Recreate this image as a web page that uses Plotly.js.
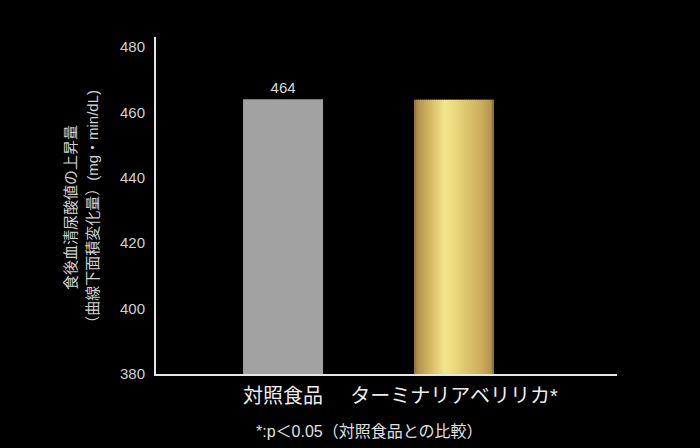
<!DOCTYPE html>
<html>
<head>
<meta charset="utf-8">
<script src="https://cdn.plot.ly/plotly-3.0.1.min.js"></script>
<style>html,body{margin:0;padding:0;background:#000;}#chart{width:700px;height:448px;}</style>
</head>
<body>
<div id="chart"></div>
<script>
// ---- data ----
const categories = ['対照食品', 'ターミナリアベリリカ*'];
const values = [464, 463.8];
const valueLabels = ['464', ''];
const yTickVals = [380, 400, 420, 440, 460, 480];
const yTitleLines = ['食後血清尿酸値の上昇量', '（曲線下面積変化量）(mg・min/dL)'];
const footnote = '*:p＜0.05（対照食品との比較）';

// ---- styling ----
const FONT = "'Liberation Sans', Arial, 'Noto Sans CJK JP', sans-serif";
const barW = 0.468;
const goldStops = [
  [0.00, [140, 114, 58]],
  [0.05, [178, 148, 78]],
  [0.20, [212, 184, 98]],
  [0.38, [242, 229, 140]],
  [0.50, [236, 218, 125]],
  [0.66, [220, 196, 108]],
  [0.85, [203, 173, 92]],
  [0.96, [180, 150, 80]],
  [1.00, [120, 98, 50]]
];
function goldAt(t) {
  for (let i = 1; i < goldStops.length; i++) {
    if (t <= goldStops[i][0]) {
      const a = goldStops[i - 1], b = goldStops[i];
      const f = (t - a[0]) / (b[0] - a[0]);
      const c = a[1].map((v, k) => Math.round(v + (b[1][k] - v) * f));
      return 'rgb(' + c.join(',') + ')';
    }
  }
  return 'rgb(' + goldStops[goldStops.length - 1][1].join(',') + ')';
}

const traces = [];
// gray control bar
traces.push({
  type: 'bar', x: [categories[0]], y: [values[0]],
  width: [barW],
  marker: { color: '#a2a2a2', line: { width: 0 } },
  text: [valueLabels[0]], textposition: 'outside', cliponaxis: false,
  textfont: { color: '#d8d8d8', size: 15, family: FONT },
  hoverinfo: 'skip', showlegend: false
});
// gold bar drawn as thin vertical stripes to imitate the metallic gradient
const N = 40;
const step = barW / N;
for (let i = 0; i < N; i++) {
  const w = (i === N - 1) ? step : step * 1.6;
  traces.push({
    type: 'bar', x: [categories[1]], y: [values[1]],
    width: [w], offset: [-barW / 2 + i * step],
    marker: { color: goldAt((i + 0.5) / N), line: { width: 0 } },
    hoverinfo: 'skip', showlegend: false
  });
}

const titleFont = { size: 15, color: '#d0d0d0', family: FONT };
const layout = {
  width: 700, height: 448,
  paper_bgcolor: '#000', plot_bgcolor: '#000',
  margin: { l: 156, r: 83, t: 37, b: 74 },
  barmode: 'overlay',
  font: { family: FONT, color: '#d0d0d0' },
  xaxis: {
    type: 'category', categoryorder: 'array', categoryarray: categories,
    range: [-0.743, 1.953],
    showline: true, linecolor: '#e6e6e6', linewidth: 2,
    ticks: '', showgrid: false, zeroline: false,
    tickfont: { size: 20, color: '#ececec', family: FONT },
    ticklabelstandoff: 3
  },
  yaxis: {
    range: [380, 483], tickvals: yTickVals,
    showline: true, linecolor: '#e6e6e6', linewidth: 2,
    ticks: '', showgrid: false, zeroline: false,
    tickfont: { size: 15, color: '#d0d0d0', family: FONT },
    ticklabelstandoff: 6
  },
  annotations: [
    {
      text: yTitleLines[0], xref: 'paper', yref: 'paper',
      x: -0.1866, y: 0.4955, xanchor: 'center', yanchor: 'middle', textangle: -90,
      showarrow: false, font: titleFont
    },
    {
      text: yTitleLines[1], xref: 'paper', yref: 'paper',
      x: -0.1367, y: 0.487, xanchor: 'center', yanchor: 'middle', textangle: -90,
      showarrow: false, font: titleFont
    },
    {
      text: footnote, xref: 'paper', yref: 'paper',
      x: 0.464, y: -0.172, xanchor: 'center', yanchor: 'middle',
      showarrow: false, font: { size: 16, color: '#e0e0e0', family: FONT }
    }
  ]
};

Plotly.newPlot('chart', traces, layout, { staticPlot: true, displayModeBar: false });
</script>
</body>
</html>
